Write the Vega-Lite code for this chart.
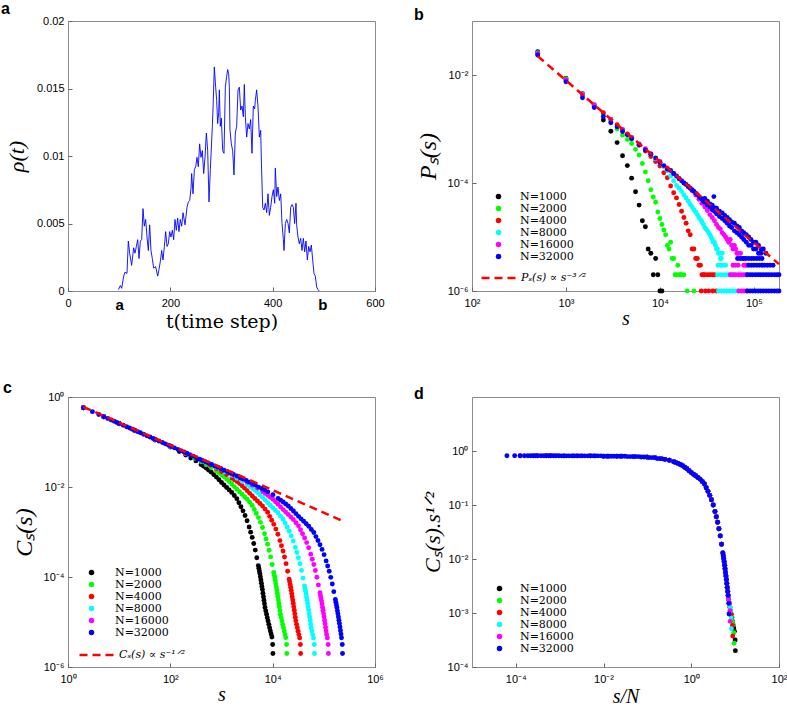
{
"$schema":"https://vega.github.io/schema/vega-lite/v6.json",
"background":"white",
"padding":{"left":0,"top":0,"right":0,"bottom":0},
"config":{
"font":"Liberation Sans",
"view":{"stroke":"#8c8c8c","strokeWidth":1},
"axis":{"domain":false,"grid":false,"labelFont":"Liberation Sans","labelFontSize":11,"labelColor":"#000","labelFlush":false,"labelOverlap":false,"labelBound":false,"tickColor":"#666","tickSize":-4,"tickWidth":1,"labelPadding":8,"titleFont":"Liberation Serif","titleFontWeight":"normal","titleColor":"#000"},
"axisX":{"labelPadding":10},
"title":{"font":"Liberation Sans","fontSize":16,"fontWeight":"bold","anchor":"start","frame":"group","color":"#000"},
"legend":{"labelColor":"#000"}
},
"datasets":{
"a":[{"t":98.4,"r":0.0001},{"t":102.3,"r":0.0004},{"t":104.9,"r":0.0002},{"t":108.8,"r":0.0011},{"t":111.4,"r":0.0014},{"t":115.3,"r":0.0013},{"t":117.9,"r":0.0037},{"t":120.5,"r":0.0028},{"t":124.4,"r":0.0019},{"t":128.3,"r":0.0032},{"t":130.9,"r":0.0028},{"t":133.6,"r":0.0033},{"t":136.2,"r":0.0038},{"t":138.8,"r":0.0024},{"t":141.4,"r":0.0037},{"t":144,"r":0.0038},{"t":146.6,"r":0.0061},{"t":149.2,"r":0.0048},{"t":151.8,"r":0.0053},{"t":154.4,"r":0.004},{"t":157,"r":0.003},{"t":159.6,"r":0.0049},{"t":162.2,"r":0.003},{"t":164.8,"r":0.0024},{"t":167.4,"r":0.0017},{"t":171.3,"r":0.0018},{"t":175.3,"r":0.0011},{"t":177.9,"r":0.0016},{"t":180.5,"r":0.0022},{"t":183.1,"r":0.003},{"t":185.7,"r":0.0023},{"t":188.3,"r":0.0033},{"t":190.9,"r":0.0044},{"t":193.5,"r":0.0033},{"t":196.1,"r":0.0035},{"t":198.7,"r":0.0044},{"t":201.3,"r":0.004},{"t":203.9,"r":0.0045},{"t":206.5,"r":0.0038},{"t":209.1,"r":0.0053},{"t":211.7,"r":0.0045},{"t":214.3,"r":0.0054},{"t":216.9,"r":0.0044},{"t":219.5,"r":0.0053},{"t":222.2,"r":0.0048},{"t":224.8,"r":0.0058},{"t":228.7,"r":0.0049},{"t":232.6,"r":0.0062},{"t":235.2,"r":0.0066},{"t":237.8,"r":0.0067},{"t":240.4,"r":0.0076},{"t":241.7,"r":0.0087},{"t":244.3,"r":0.0072},{"t":247,"r":0.009},{"t":249.6,"r":0.0092},{"t":252.1,"r":0.0099},{"t":254.7,"r":0.0092},{"t":257.3,"r":0.0109},{"t":259.9,"r":0.0099},{"t":262.5,"r":0.0104},{"t":265.2,"r":0.0087},{"t":267.8,"r":0.0099},{"t":270.4,"r":0.0117},{"t":273,"r":0.0104},{"t":275.6,"r":0.0066},{"t":278.2,"r":0.009},{"t":282.1,"r":0.0122},{"t":283.4,"r":0.0135},{"t":286,"r":0.0166},{"t":288.6,"r":0.0151},{"t":290.6,"r":0.0141},{"t":292.5,"r":0.0124},{"t":294.5,"r":0.0132},{"t":295.8,"r":0.0149},{"t":297.7,"r":0.0122},{"t":299.7,"r":0.0128},{"t":302.3,"r":0.0104},{"t":304.9,"r":0.0102},{"t":307.5,"r":0.0151},{"t":310.1,"r":0.0159},{"t":312.1,"r":0.0164},{"t":314,"r":0.0161},{"t":315.3,"r":0.0151},{"t":316.6,"r":0.0119},{"t":319.2,"r":0.0109},{"t":321.8,"r":0.0104},{"t":324.4,"r":0.0086},{"t":327,"r":0.0117},{"t":329.6,"r":0.0122},{"t":332.3,"r":0.0149},{"t":334.9,"r":0.0151},{"t":337.5,"r":0.0134},{"t":340.1,"r":0.0137},{"t":342.7,"r":0.0129},{"t":344.6,"r":0.0153},{"t":346.6,"r":0.0129},{"t":349.2,"r":0.0114},{"t":351.8,"r":0.0124},{"t":354.4,"r":0.012},{"t":357,"r":0.0127},{"t":359.6,"r":0.0102},{"t":362.2,"r":0.0137},{"t":364.8,"r":0.0135},{"t":366.1,"r":0.0141},{"t":368.7,"r":0.0149},{"t":371.3,"r":0.0137},{"t":374,"r":0.0114},{"t":376.6,"r":0.0119},{"t":377.9,"r":0.0097},{"t":380.5,"r":0.0062},{"t":383.1,"r":0.006},{"t":385.7,"r":0.0065},{"t":388.3,"r":0.0058},{"t":390.9,"r":0.0072},{"t":393.5,"r":0.0056},{"t":396.1,"r":0.0062},{"t":398.7,"r":0.007},{"t":401.3,"r":0.0075},{"t":404,"r":0.0065},{"t":405.2,"r":0.0091},{"t":407.9,"r":0.007},{"t":410.4,"r":0.0077},{"t":413.1,"r":0.0067},{"t":415.7,"r":0.0072},{"t":418.3,"r":0.005},{"t":420.9,"r":0.0038},{"t":422.2,"r":0.003},{"t":424.8,"r":0.005},{"t":427.4,"r":0.0053},{"t":430,"r":0.005},{"t":432.6,"r":0.0043},{"t":435.2,"r":0.0062},{"t":437.8,"r":0.0064},{"t":440.4,"r":0.0062},{"t":443,"r":0.005},{"t":445.6,"r":0.0065},{"t":446.9,"r":0.0049},{"t":449.5,"r":0.004},{"t":452.1,"r":0.0035},{"t":454.7,"r":0.0039},{"t":457.3,"r":0.003},{"t":460,"r":0.0039},{"t":462.6,"r":0.0029},{"t":465.2,"r":0.0037},{"t":467.8,"r":0.0023},{"t":470.4,"r":0.0033},{"t":473,"r":0.0029},{"t":475.6,"r":0.0034},{"t":478.2,"r":0.0023},{"t":480.8,"r":0.0013},{"t":483.4,"r":0.0011},{"t":486,"r":0.0003},{"t":488.6,"r":0.0001},{"t":491.2,"r":0}],
"b":[
{"N":1000,"s":500,"p":0.027},{"N":1000,"s":1000,"p":0.0087},{"N":1000,"s":1500,"p":0.0045},{"N":1000,"s":2000,"p":0.0027},{"N":1000,"s":2500,"p":0.00147},{"N":1000,"s":3000,"p":0.00091},{"N":1000,"s":3500,"p":0.00056},{"N":1000,"s":4000,"p":0.00032},{"N":1000,"s":4500,"p":0.00021},{"N":1000,"s":5000,"p":0.000123},{"N":1000,"s":5500,"p":6.9e-5},{"N":1000,"s":6000,"p":3.9e-5},{"N":1000,"s":6500,"p":2e-5},{"N":1000,"s":7000,"p":1.55e-5},{"N":1000,"s":7500,"p":6e-6},{"N":1000,"s":8000,"p":5e-6},{"N":1000,"s":8500,"p":2e-6},{"N":1000,"s":9000,"p":4e-6},{"N":1000,"s":9500,"p":2e-6},{"N":1000,"s":10000,"p":1e-6},{"N":1000,"s":10500,"p":1e-6},
{"N":2000,"s":500,"p":0.026},{"N":2000,"s":1000,"p":0.0085},{"N":2000,"s":1500,"p":0.0044},{"N":2000,"s":2000,"p":0.0028},{"N":2000,"s":2500,"p":0.0019},{"N":2000,"s":3000,"p":0.00135},{"N":2000,"s":3500,"p":0.001},{"N":2000,"s":4000,"p":0.00077},{"N":2000,"s":4500,"p":0.00064},{"N":2000,"s":5000,"p":0.00054},{"N":2000,"s":5500,"p":0.00042},{"N":2000,"s":6000,"p":0.00033},{"N":2000,"s":6500,"p":0.00023},{"N":2000,"s":7000,"p":0.00016},{"N":2000,"s":7500,"p":0.00011},{"N":2000,"s":8000,"p":7.5e-5},{"N":2000,"s":8500,"p":5.5e-5},{"N":2000,"s":9000,"p":4.4e-5},{"N":2000,"s":9500,"p":2.9e-5},{"N":2000,"s":10000,"p":2.2e-5},{"N":2000,"s":10500,"p":1.7e-5},{"N":2000,"s":11000,"p":1.35e-5},{"N":2000,"s":11500,"p":1.1e-5},{"N":2000,"s":12000,"p":7e-6},{"N":2000,"s":12500,"p":6e-6},{"N":2000,"s":13000,"p":8e-6},{"N":2000,"s":13500,"p":4e-6},{"N":2000,"s":14000,"p":4e-6},{"N":2000,"s":14500,"p":2e-6},{"N":2000,"s":15000,"p":2e-6},{"N":2000,"s":15500,"p":3e-6},{"N":2000,"s":16000,"p":2e-6},{"N":2000,"s":16500,"p":2e-6},{"N":2000,"s":17000,"p":2e-6},{"N":2000,"s":18000,"p":2e-6},{"N":2000,"s":19500,"p":1e-6},{"N":2000,"s":23000,"p":1e-6},
{"N":4000,"s":500,"p":0.025},{"N":4000,"s":1000,"p":0.0082},{"N":4000,"s":1500,"p":0.0043},{"N":4000,"s":2000,"p":0.0028},{"N":4000,"s":2500,"p":0.002},{"N":4000,"s":3000,"p":0.0015},{"N":4000,"s":3500,"p":0.0012},{"N":4000,"s":4000,"p":0.00096},{"N":4000,"s":4500,"p":0.00081},{"N":4000,"s":5000,"p":0.00068},{"N":4000,"s":6000,"p":0.0005},{"N":4000,"s":7000,"p":0.00039},{"N":4000,"s":8000,"p":0.00031},{"N":4000,"s":9000,"p":0.00025},{"N":4000,"s":10000,"p":0.000207},{"N":4000,"s":11000,"p":0.000155},{"N":4000,"s":12000,"p":0.000125},{"N":4000,"s":13000,"p":8.8e-5},{"N":4000,"s":14000,"p":6.6e-5},{"N":4000,"s":15000,"p":5.3e-5},{"N":4000,"s":16000,"p":4e-5},{"N":4000,"s":17000,"p":3e-5},{"N":4000,"s":18000,"p":2.3e-5},{"N":4000,"s":19000,"p":1.8e-5},{"N":4000,"s":20000,"p":1.3e-5},{"N":4000,"s":21000,"p":1.1e-5},{"N":4000,"s":22000,"p":6e-6},{"N":4000,"s":23000,"p":6e-6},{"N":4000,"s":24000,"p":4e-6},{"N":4000,"s":25000,"p":4e-6},{"N":4000,"s":26000,"p":3e-6},{"N":4000,"s":27000,"p":3e-6},{"N":4000,"s":28000,"p":2e-6},{"N":4000,"s":29000,"p":2e-6},{"N":4000,"s":30000,"p":2e-6},{"N":4000,"s":32000,"p":2e-6},{"N":4000,"s":34000,"p":2e-6},{"N":4000,"s":36000,"p":2e-6},{"N":4000,"s":38000,"p":2e-6},{"N":4000,"s":27500,"p":1e-6},{"N":4000,"s":30500,"p":1e-6},{"N":4000,"s":33000,"p":1e-6},{"N":4000,"s":36500,"p":1e-6},{"N":4000,"s":40000,"p":1e-6},
{"N":8000,"s":500,"p":0.025},{"N":8000,"s":1000,"p":0.0081},{"N":8000,"s":1500,"p":0.0043},{"N":8000,"s":2000,"p":0.0028},{"N":8000,"s":3000,"p":0.0015},{"N":8000,"s":4000,"p":0.00098},{"N":8000,"s":5000,"p":0.0007},{"N":8000,"s":6000,"p":0.00052},{"N":8000,"s":7000,"p":0.00042},{"N":8000,"s":8000,"p":0.00034},{"N":8000,"s":9000,"p":0.00028},{"N":8000,"s":10000,"p":0.00024},{"N":8000,"s":11000,"p":0.0002},{"N":8000,"s":12000,"p":0.00017},{"N":8000,"s":13000,"p":0.000135},{"N":8000,"s":14000,"p":0.00011},{"N":8000,"s":15000,"p":9e-5},{"N":8000,"s":16000,"p":8e-5},{"N":8000,"s":17000,"p":7e-5},{"N":8000,"s":18000,"p":6e-5},{"N":8000,"s":19000,"p":5.3e-5},{"N":8000,"s":20000,"p":4.6e-5},{"N":8000,"s":21000,"p":4e-5},{"N":8000,"s":22000,"p":3.6e-5},{"N":8000,"s":23000,"p":3.2e-5},{"N":8000,"s":24000,"p":2.9e-5},{"N":8000,"s":25000,"p":2.6e-5},{"N":8000,"s":26000,"p":2.3e-5},{"N":8000,"s":27000,"p":2.1e-5},{"N":8000,"s":28000,"p":1.9e-5},{"N":8000,"s":29000,"p":1.7e-5},{"N":8000,"s":30000,"p":1.5e-5},{"N":8000,"s":31000,"p":1.4e-5},{"N":8000,"s":32000,"p":1.3e-5},{"N":8000,"s":33000,"p":1.2e-5},{"N":8000,"s":34000,"p":1.1e-5},{"N":8000,"s":35000,"p":1e-5},{"N":8000,"s":36000,"p":9e-6},{"N":8000,"s":37000,"p":8e-6},{"N":8000,"s":38000,"p":8e-6},{"N":8000,"s":39000,"p":7e-6},{"N":8000,"s":40000,"p":6e-6},{"N":8000,"s":41000,"p":6e-6},{"N":8000,"s":42000,"p":5e-6},{"N":8000,"s":43000,"p":5e-6},{"N":8000,"s":44000,"p":4e-6},{"N":8000,"s":45000,"p":4e-6},{"N":8000,"s":46000,"p":5e-6},{"N":8000,"s":41500,"p":3e-6},{"N":8000,"s":44500,"p":3e-6},{"N":8000,"s":47000,"p":3e-6},{"N":8000,"s":50000,"p":3e-6},{"N":8000,"s":41000,"p":2e-6},{"N":8000,"s":44000,"p":2e-6},{"N":8000,"s":47000,"p":2e-6},{"N":8000,"s":50000,"p":2e-6},{"N":8000,"s":53500,"p":2e-6},{"N":8000,"s":57000,"p":2e-6},{"N":8000,"s":61000,"p":2e-6},{"N":8000,"s":42000,"p":1e-6},{"N":8000,"s":45000,"p":1e-6},{"N":8000,"s":48000,"p":1e-6},{"N":8000,"s":51500,"p":1e-6},{"N":8000,"s":55000,"p":1e-6},{"N":8000,"s":59000,"p":1e-6},{"N":8000,"s":63000,"p":1e-6},{"N":8000,"s":67000,"p":1e-6},
{"N":16000,"s":500,"p":0.025},{"N":16000,"s":1000,"p":0.0081},{"N":16000,"s":1500,"p":0.0043},{"N":16000,"s":2000,"p":0.0028},{"N":16000,"s":3000,"p":0.0015},{"N":16000,"s":4000,"p":0.00098},{"N":16000,"s":5000,"p":0.0007},{"N":16000,"s":6000,"p":0.00053},{"N":16000,"s":7000,"p":0.00043},{"N":16000,"s":8000,"p":0.00035},{"N":16000,"s":10000,"p":0.00025},{"N":16000,"s":12000,"p":0.00019},{"N":16000,"s":14000,"p":0.00015},{"N":16000,"s":16000,"p":0.000122},{"N":16000,"s":18000,"p":0.0001},{"N":16000,"s":20000,"p":8.5e-5},{"N":16000,"s":22000,"p":7.2e-5},{"N":16000,"s":24000,"p":6e-5},{"N":16000,"s":26000,"p":5e-5},{"N":16000,"s":28000,"p":4.2e-5},{"N":16000,"s":30000,"p":3.6e-5},{"N":16000,"s":32000,"p":3.1e-5},{"N":16000,"s":34000,"p":2.6e-5},{"N":16000,"s":36000,"p":2.3e-5},{"N":16000,"s":38000,"p":2e-5},{"N":16000,"s":40000,"p":1.7e-5},{"N":16000,"s":42000,"p":1.5e-5},{"N":16000,"s":44000,"p":1.4e-5},{"N":16000,"s":46000,"p":1.2e-5},{"N":16000,"s":48000,"p":1.1e-5},{"N":16000,"s":50000,"p":1e-5},{"N":16000,"s":52000,"p":9e-6},{"N":16000,"s":54000,"p":8e-6},{"N":16000,"s":56000,"p":9e-6},{"N":16000,"s":58000,"p":7e-6},{"N":16000,"s":60000,"p":6e-6},{"N":16000,"s":62000,"p":7e-6},{"N":16000,"s":64000,"p":6e-6},{"N":16000,"s":66000,"p":5e-6},{"N":16000,"s":68000,"p":5e-6},{"N":16000,"s":70000,"p":4e-6},{"N":16000,"s":72000,"p":5e-6},{"N":16000,"s":74000,"p":4e-6},{"N":16000,"s":76000,"p":4e-6},{"N":16000,"s":78000,"p":3e-6},{"N":16000,"s":80000,"p":4e-6},{"N":16000,"s":82000,"p":3e-6},{"N":16000,"s":84000,"p":3e-6},{"N":16000,"s":60000,"p":3e-6},{"N":16000,"s":64000,"p":3e-6},{"N":16000,"s":68000,"p":3e-6},{"N":16000,"s":56000,"p":2e-6},{"N":16000,"s":60000,"p":2e-6},{"N":16000,"s":64000,"p":2e-6},{"N":16000,"s":68500,"p":2e-6},{"N":16000,"s":73000,"p":2e-6},{"N":16000,"s":78000,"p":2e-6},{"N":16000,"s":83500,"p":2e-6},{"N":16000,"s":69000,"p":1e-6},{"N":16000,"s":73500,"p":1e-6},{"N":16000,"s":78500,"p":1e-6},{"N":16000,"s":84000,"p":1e-6},
{"N":32000,"s":500,"p":0.0235},{"N":32000,"s":1000,"p":0.0075},{"N":32000,"s":1500,"p":0.0038},{"N":32000,"s":2000,"p":0.0025},{"N":32000,"s":2500,"p":0.0017},{"N":32000,"s":3000,"p":0.0013},{"N":32000,"s":3500,"p":0.0011},{"N":32000,"s":4000,"p":0.0009},{"N":32000,"s":4500,"p":0.00078},{"N":32000,"s":5000,"p":0.00066},{"N":32000,"s":6000,"p":0.00051},{"N":32000,"s":7000,"p":0.00041},{"N":32000,"s":8000,"p":0.00034},{"N":32000,"s":9000,"p":0.00029},{"N":32000,"s":10000,"p":0.00024},{"N":32000,"s":11000,"p":0.00021},{"N":32000,"s":12000,"p":0.00018},{"N":32000,"s":13000,"p":0.00017},{"N":32000,"s":14000,"p":0.00015},{"N":32000,"s":15000,"p":0.000135},{"N":32000,"s":16000,"p":0.00012},{"N":32000,"s":17000,"p":0.00011},{"N":32000,"s":18000,"p":0.0001},{"N":32000,"s":19000,"p":9.4e-5},{"N":32000,"s":20000,"p":8.6e-5},{"N":32000,"s":21000,"p":8e-5},{"N":32000,"s":22000,"p":7.5e-5},{"N":32000,"s":23000,"p":7e-5},{"N":32000,"s":24000,"p":6.5e-5},{"N":32000,"s":25000,"p":6.1e-5},{"N":32000,"s":26000,"p":5.6e-5},{"N":32000,"s":27000,"p":5.3e-5},{"N":32000,"s":28000,"p":5e-5},{"N":32000,"s":29000,"p":4.6e-5},
{"N":32000,"s":30000,"p":4.4e-5},{"N":32000,"s":30000,"p":5.2e-5},{"N":32000,"s":32000,"p":3.9e-5},{"N":32000,"s":32000,"p":4.6e-5},{"N":32000,"s":34000,"p":3.6e-5},{"N":32000,"s":34000,"p":4.1e-5},{"N":32000,"s":36000,"p":3.2e-5},{"N":32000,"s":36000,"p":3.9e-5},{"N":32000,"s":37500,"p":5.6e-5},{"N":32000,"s":38000,"p":3e-5},{"N":32000,"s":38000,"p":3.5e-5},{"N":32000,"s":40000,"p":2.7e-5},{"N":32000,"s":40000,"p":3.4e-5},{"N":32000,"s":43000,"p":2.4e-5},{"N":32000,"s":43000,"p":3e-5},{"N":32000,"s":46000,"p":2.2e-5},{"N":32000,"s":46000,"p":2.8e-5},{"N":32000,"s":49000,"p":2e-5},{"N":32000,"s":49000,"p":2.5e-5},{"N":32000,"s":52000,"p":1.8e-5},{"N":32000,"s":52000,"p":2.3e-5},{"N":32000,"s":55000,"p":1.6e-5},{"N":32000,"s":55000,"p":2.1e-5},{"N":32000,"s":58000,"p":1.5e-5},{"N":32000,"s":58000,"p":1.9e-5},{"N":32000,"s":62000,"p":1.3e-5},{"N":32000,"s":62000,"p":1.8e-5},{"N":32000,"s":66000,"p":1.2e-5},{"N":32000,"s":66000,"p":1.6e-5},{"N":32000,"s":70000,"p":1.1e-5},{"N":32000,"s":70000,"p":1.5e-5},{"N":32000,"s":74000,"p":1e-5},{"N":32000,"s":74000,"p":1.3e-5},{"N":32000,"s":78000,"p":9e-6},{"N":32000,"s":78000,"p":1.2e-5},{"N":32000,"s":83000,"p":8e-6},{"N":32000,"s":83000,"p":1.1e-5},{"N":32000,"s":88000,"p":7e-6},{"N":32000,"s":88000,"p":1e-5},{"N":32000,"s":93000,"p":7e-6},{"N":32000,"s":93000,"p":9e-6},{"N":32000,"s":99000,"p":6e-6},{"N":32000,"s":99000,"p":8e-6},{"N":32000,"s":105000,"p":6e-6},{"N":32000,"s":105000,"p":8e-6},{"N":32000,"s":112000,"p":5e-6},{"N":32000,"s":112000,"p":7e-6},{"N":32000,"s":119000,"p":5e-6},{"N":32000,"s":119000,"p":6e-6},{"N":32000,"s":126000,"p":6e-6},{"N":32000,"s":134000,"p":5e-6},
{"N":32000,"s":67000,"p":4e-6},{"N":32000,"s":72000,"p":4e-6},{"N":32000,"s":77000,"p":4e-6},{"N":32000,"s":82000,"p":4e-6},{"N":32000,"s":88000,"p":4e-6},{"N":32000,"s":94000,"p":4e-6},{"N":32000,"s":100000,"p":4e-6},{"N":32000,"s":107000,"p":4e-6},{"N":32000,"s":114000,"p":4e-6},{"N":32000,"s":122000,"p":4e-6},
{"N":32000,"s":88000,"p":3e-6},{"N":32000,"s":94000,"p":3e-6},{"N":32000,"s":100000,"p":3e-6},{"N":32000,"s":107000,"p":3e-6},{"N":32000,"s":114000,"p":3e-6},{"N":32000,"s":122000,"p":3e-6},{"N":32000,"s":130000,"p":3e-6},{"N":32000,"s":139000,"p":3e-6},{"N":32000,"s":149000,"p":3e-6},{"N":32000,"s":160000,"p":3e-6},
{"N":32000,"s":85000,"p":2e-6},{"N":32000,"s":91000,"p":2e-6},{"N":32000,"s":97000,"p":2e-6},{"N":32000,"s":104000,"p":2e-6},{"N":32000,"s":111000,"p":2e-6},{"N":32000,"s":118000,"p":2e-6},{"N":32000,"s":126000,"p":2e-6},{"N":32000,"s":135000,"p":2e-6},{"N":32000,"s":144000,"p":2e-6},{"N":32000,"s":154000,"p":2e-6},{"N":32000,"s":165000,"p":2e-6},{"N":32000,"s":176000,"p":2e-6},{"N":32000,"s":185000,"p":2e-6},
{"N":32000,"s":85000,"p":1e-6},{"N":32000,"s":91000,"p":1e-6},{"N":32000,"s":97000,"p":1e-6},{"N":32000,"s":104000,"p":1e-6},{"N":32000,"s":111000,"p":1e-6},{"N":32000,"s":118000,"p":1e-6},{"N":32000,"s":126000,"p":1e-6},{"N":32000,"s":135000,"p":1e-6},{"N":32000,"s":144000,"p":1e-6},{"N":32000,"s":154000,"p":1e-6},{"N":32000,"s":165000,"p":1e-6},{"N":32000,"s":176000,"p":1e-6},{"N":32000,"s":185000,"p":1e-6}
],
"bl":[{"s":500,"p":0.0224,"f":"Pₛ(s) ∝ s⁻³ᐟ²"},{"s":185000,"p":3.14e-6,"f":"Pₛ(s) ∝ s⁻³ᐟ²"}],
"cl":[{"s":2,"c":0.6,"f":"Cₛ(s) ∝ s⁻¹ᐟ²"},{"s":230000,"c":0.00177,"f":"Cₛ(s) ∝ s⁻¹ᐟ²"}],
"cd":[
{"N":1000,"s":2,"c":0.575,"x":0.002,"y":0.813},{"N":1000,"s":5,"c":0.364,"x":0.005,"y":0.813},{"N":1000,"s":10,"c":0.253,"x":0.01,"y":0.8},{"N":1000,"s":20,"c":0.179,"x":0.02,"y":0.8},{"N":1000,"s":50,"c":0.111,"x":0.05,"y":0.787},{"N":1000,"s":100,"c":0.077,"x":0.1,"y":0.77},{"N":1000,"s":150,"c":0.0616,"x":0.15,"y":0.755},{"N":1000,"s":200,"c":0.0512,"x":0.2,"y":0.724},
{"N":1000,"s":251,"c":0.0442,"x":0.251,"y":0.7},{"N":1000,"s":316,"c":0.038,"x":0.316,"y":0.676},{"N":1000,"s":398,"c":0.0316,"x":0.398,"y":0.631},{"N":1000,"s":447,"c":0.0288,"x":0.447,"y":0.61},{"N":1000,"s":501,"c":0.0263,"x":0.501,"y":0.589},{"N":1000,"s":562,"c":0.0237,"x":0.562,"y":0.562},{"N":1000,"s":631,"c":0.0214,"x":0.631,"y":0.537},{"N":1000,"s":708,"c":0.0188,"x":0.708,"y":0.501},{"N":1000,"s":794,"c":0.0166,"x":0.794,"y":0.468},{"N":1000,"s":891,"c":0.0145,"x":0.891,"y":0.432},{"N":1000,"s":1000,"c":0.0126,"x":1,"y":0.398},{"N":1000,"s":1122,"c":0.0111,"x":1.122,"y":0.372},{"N":1000,"s":1259,"c":0.00977,"x":1.259,"y":0.347},{"N":1000,"s":1413,"c":0.00861,"x":1.413,"y":0.324},{"N":1000,"s":1585,"c":0.00759,"x":1.585,"y":0.302},{"N":1000,"s":1778,"c":0.00646,"x":1.778,"y":0.272},{"N":1000,"s":1995,"c":0.0055,"x":1.995,"y":0.245},{"N":1000,"s":2188,"c":0.00447,"x":2.188,"y":0.209},{"N":1000,"s":2399,"c":0.00365,"x":2.399,"y":0.179},{"N":1000,"s":2630,"c":0.00295,"x":2.63,"y":0.151},{"N":1000,"s":2884,"c":0.00232,"x":2.884,"y":0.125},{"N":1000,"s":3162,"c":0.00178,"x":3.162,"y":0.1},{"N":1000,"s":3467,"c":0.00129,"x":3.467,"y":0.0759},{"N":1000,"s":3715,"c":0.000993,"x":3.715,"y":0.0605},{"N":1000,"s":3981,"c":0.000759,"x":3.981,"y":0.0479},{"N":1000,"s":4266,"c":0.000556,"x":4.266,"y":0.0363},{"N":1000,"s":4571,"c":0.000396,"x":4.571,"y":0.0268},{"N":1000,"s":4898,"c":0.000267,"x":4.898,"y":0.0187},{"N":1000,"s":5248,"c":0.000179,"x":5.248,"y":0.0129},{"N":1000,"s":5370,"c":0.000156,"x":5.37,"y":0.0114},{"N":1000,"s":5495,"c":0.000136,"x":5.495,"y":0.0101},{"N":1000,"s":5623,"c":0.000119,"x":5.623,"y":0.00891},{"N":1000,"s":5754,"c":0.000101,"x":5.754,"y":0.00766},{"N":1000,"s":5888,"c":8.57e-5,"x":5.888,"y":0.00658},{"N":1000,"s":6026,"c":7.28e-5,"x":6.026,"y":0.00565},{"N":1000,"s":6166,"c":6.18e-5,"x":6.166,"y":0.00485},{"N":1000,"s":6310,"c":5.25e-5,"x":6.31,"y":0.00417},{"N":1000,"s":6457,"c":4.38e-5,"x":6.457,"y":0.00352},{"N":1000,"s":6607,"c":3.65e-5,"x":6.607,"y":0.00296},{"N":1000,"s":6761,"c":3.04e-5,"x":6.761,"y":0.0025},{"N":1000,"s":6918,"c":2.54e-5,"x":6.918,"y":0.00211},{"N":1000,"s":7079,"c":2.11e-5,"x":7.079,"y":0.00178},{"N":1000,"s":7328,"c":1.77e-5,"x":7.328,"y":0.00152},{"N":1000,"s":7586,"c":1.49e-5,"x":7.586,"y":0.00129},{"N":1000,"s":7852,"c":1.25e-5,"x":7.852,"y":0.0011},{"N":1000,"s":8128,"c":1.05e-5,"x":8.128,"y":0.000946},{"N":1000,"s":8414,"c":8.86e-6,"x":8.414,"y":0.000813},{"N":1000,"s":8710,"c":7.48e-6,"x":8.71,"y":0.000698},{"N":1000,"s":9016,"c":6.35e-6,"x":9.016,"y":0.000603},{"N":1000,"s":9333,"c":5.43e-6,"x":9.333,"y":0.000525},{"N":1000,"s":9661,"c":4.65e-6,"x":9.661,"y":0.000457},{"N":1000,"s":10000,"c":3.16e-6,"x":10,"y":0.000316},{"N":1000,"s":10120,"c":2e-6,"x":10.12,"y":0.000201},
{"N":2000,"s":2,"c":0.575,"x":0.001,"y":0.813},{"N":2000,"s":5,"c":0.364,"x":0.0025,"y":0.813},{"N":2000,"s":10,"c":0.257,"x":0.005,"y":0.813},{"N":2000,"s":20,"c":0.179,"x":0.01,"y":0.8},{"N":2000,"s":50,"c":0.113,"x":0.025,"y":0.8},{"N":2000,"s":100,"c":0.0787,"x":0.05,"y":0.787},{"N":2000,"s":200,"c":0.0545,"x":0.1,"y":0.77},{"N":2000,"s":300,"c":0.0436,"x":0.15,"y":0.755},{"N":2000,"s":400,"c":0.0362,"x":0.2,"y":0.724},
{"N":2000,"s":502,"c":0.0312,"x":0.251,"y":0.7},{"N":2000,"s":632,"c":0.0269,"x":0.316,"y":0.676},{"N":2000,"s":796,"c":0.0224,"x":0.398,"y":0.631},{"N":2000,"s":894,"c":0.0204,"x":0.447,"y":0.61},{"N":2000,"s":1002,"c":0.0186,"x":0.501,"y":0.589},{"N":2000,"s":1124,"c":0.0168,"x":0.562,"y":0.562},{"N":2000,"s":1262,"c":0.0151,"x":0.631,"y":0.537},{"N":2000,"s":1416,"c":0.0133,"x":0.708,"y":0.501},{"N":2000,"s":1588,"c":0.0117,"x":0.794,"y":0.468},{"N":2000,"s":1782,"c":0.0102,"x":0.891,"y":0.432},{"N":2000,"s":2000,"c":0.0089,"x":1,"y":0.398},{"N":2000,"s":2244,"c":0.00784,"x":1.122,"y":0.372},{"N":2000,"s":2518,"c":0.00691,"x":1.259,"y":0.347},{"N":2000,"s":2826,"c":0.00609,"x":1.413,"y":0.324},{"N":2000,"s":3170,"c":0.00537,"x":1.585,"y":0.302},{"N":2000,"s":3556,"c":0.00457,"x":1.778,"y":0.272},{"N":2000,"s":3990,"c":0.00389,"x":1.995,"y":0.245},{"N":2000,"s":4376,"c":0.00316,"x":2.188,"y":0.209},{"N":2000,"s":4798,"c":0.00258,"x":2.399,"y":0.179},{"N":2000,"s":5260,"c":0.00209,"x":2.63,"y":0.151},{"N":2000,"s":5768,"c":0.00164,"x":2.884,"y":0.125},{"N":2000,"s":6324,"c":0.00126,"x":3.162,"y":0.1},{"N":2000,"s":6934,"c":0.000911,"x":3.467,"y":0.0759},{"N":2000,"s":7430,"c":0.000702,"x":3.715,"y":0.0605},{"N":2000,"s":7962,"c":0.000537,"x":3.981,"y":0.0479},{"N":2000,"s":8532,"c":0.000393,"x":4.266,"y":0.0363},{"N":2000,"s":9142,"c":0.00028,"x":4.571,"y":0.0268},{"N":2000,"s":9796,"c":0.000189,"x":4.898,"y":0.0187},{"N":2000,"s":10500,"c":0.000126,"x":5.248,"y":0.0129},{"N":2000,"s":10740,"c":0.00011,"x":5.37,"y":0.0114},{"N":2000,"s":10990,"c":9.63e-5,"x":5.495,"y":0.0101},{"N":2000,"s":11250,"c":8.4e-5,"x":5.623,"y":0.00891},{"N":2000,"s":11510,"c":7.14e-5,"x":5.754,"y":0.00766},{"N":2000,"s":11780,"c":6.06e-5,"x":5.888,"y":0.00658},{"N":2000,"s":12050,"c":5.15e-5,"x":6.026,"y":0.00565},{"N":2000,"s":12330,"c":4.37e-5,"x":6.166,"y":0.00485},{"N":2000,"s":12620,"c":3.71e-5,"x":6.31,"y":0.00417},{"N":2000,"s":12910,"c":3.09e-5,"x":6.457,"y":0.00352},{"N":2000,"s":13210,"c":2.58e-5,"x":6.607,"y":0.00296},{"N":2000,"s":13520,"c":2.15e-5,"x":6.761,"y":0.0025},{"N":2000,"s":13840,"c":1.79e-5,"x":6.918,"y":0.00211},{"N":2000,"s":14160,"c":1.49e-5,"x":7.079,"y":0.00178},{"N":2000,"s":14660,"c":1.25e-5,"x":7.328,"y":0.00152},{"N":2000,"s":15170,"c":1.05e-5,"x":7.586,"y":0.00129},{"N":2000,"s":15700,"c":8.81e-6,"x":7.852,"y":0.0011},{"N":2000,"s":16260,"c":7.42e-6,"x":8.128,"y":0.000946},{"N":2000,"s":16830,"c":6.27e-6,"x":8.414,"y":0.000813},{"N":2000,"s":17420,"c":5.29e-6,"x":8.71,"y":0.000698},{"N":2000,"s":18030,"c":4.49e-6,"x":9.016,"y":0.000603},{"N":2000,"s":18660,"c":3.16e-6,"x":9.33,"y":0.000432},{"N":2000,"s":18880,"c":2e-6,"x":9.44,"y":0.000275},
{"N":4000,"s":2,"c":0.578,"x":0.0005,"y":0.817},{"N":4000,"s":5,"c":0.364,"x":0.00125,"y":0.813},{"N":4000,"s":10,"c":0.257,"x":0.0025,"y":0.813},{"N":4000,"s":20,"c":0.182,"x":0.005,"y":0.813},{"N":4000,"s":50,"c":0.113,"x":0.0125,"y":0.8},{"N":4000,"s":100,"c":0.08,"x":0.025,"y":0.8},{"N":4000,"s":200,"c":0.0557,"x":0.05,"y":0.787},{"N":4000,"s":400,"c":0.0385,"x":0.1,"y":0.77},{"N":4000,"s":600,"c":0.0308,"x":0.15,"y":0.755},{"N":4000,"s":800,"c":0.0256,"x":0.2,"y":0.724},
{"N":4000,"s":1004,"c":0.0221,"x":0.251,"y":0.7},{"N":4000,"s":1264,"c":0.019,"x":0.316,"y":0.676},{"N":4000,"s":1592,"c":0.0158,"x":0.398,"y":0.631},{"N":4000,"s":1788,"c":0.0144,"x":0.447,"y":0.61},{"N":4000,"s":2004,"c":0.0132,"x":0.501,"y":0.589},{"N":4000,"s":2248,"c":0.0119,"x":0.562,"y":0.562},{"N":4000,"s":2524,"c":0.0107,"x":0.631,"y":0.537},{"N":4000,"s":2832,"c":0.00942,"x":0.708,"y":0.501},{"N":4000,"s":3176,"c":0.0083,"x":0.794,"y":0.468},{"N":4000,"s":3564,"c":0.00723,"x":0.891,"y":0.432},{"N":4000,"s":4000,"c":0.0063,"x":1,"y":0.398},{"N":4000,"s":4488,"c":0.00555,"x":1.122,"y":0.372},{"N":4000,"s":5036,"c":0.00489,"x":1.259,"y":0.347},{"N":4000,"s":5652,"c":0.00431,"x":1.413,"y":0.324},{"N":4000,"s":6340,"c":0.00379,"x":1.585,"y":0.302},{"N":4000,"s":7112,"c":0.00323,"x":1.778,"y":0.272},{"N":4000,"s":7980,"c":0.00275,"x":1.995,"y":0.245},{"N":4000,"s":8752,"c":0.00223,"x":2.188,"y":0.209},{"N":4000,"s":9596,"c":0.00182,"x":2.399,"y":0.179},{"N":4000,"s":10520,"c":0.00148,"x":2.63,"y":0.151},{"N":4000,"s":11540,"c":0.00116,"x":2.884,"y":0.125},{"N":4000,"s":12650,"c":0.000889,"x":3.162,"y":0.1},{"N":4000,"s":13870,"c":0.000644,"x":3.467,"y":0.0759},{"N":4000,"s":14860,"c":0.000497,"x":3.715,"y":0.0605},{"N":4000,"s":15920,"c":0.000379,"x":3.981,"y":0.0479},{"N":4000,"s":17060,"c":0.000278,"x":4.266,"y":0.0363},{"N":4000,"s":18280,"c":0.000198,"x":4.571,"y":0.0268},{"N":4000,"s":19590,"c":0.000134,"x":4.898,"y":0.0187},{"N":4000,"s":20990,"c":8.93e-5,"x":5.248,"y":0.0129},{"N":4000,"s":21480,"c":7.8e-5,"x":5.37,"y":0.0114},{"N":4000,"s":21980,"c":6.81e-5,"x":5.495,"y":0.0101},{"N":4000,"s":22490,"c":5.94e-5,"x":5.623,"y":0.00891},{"N":4000,"s":23020,"c":5.05e-5,"x":5.754,"y":0.00766},{"N":4000,"s":23550,"c":4.29e-5,"x":5.888,"y":0.00658},{"N":4000,"s":24100,"c":3.64e-5,"x":6.026,"y":0.00565},{"N":4000,"s":24660,"c":3.09e-5,"x":6.166,"y":0.00485},{"N":4000,"s":25240,"c":2.62e-5,"x":6.31,"y":0.00417},{"N":4000,"s":25830,"c":2.19e-5,"x":6.457,"y":0.00352},{"N":4000,"s":26430,"c":1.82e-5,"x":6.607,"y":0.00296},{"N":4000,"s":27040,"c":1.52e-5,"x":6.761,"y":0.0025},{"N":4000,"s":27670,"c":1.27e-5,"x":6.918,"y":0.00211},{"N":4000,"s":28320,"c":1.06e-5,"x":7.079,"y":0.00178},{"N":4000,"s":29310,"c":8.86e-6,"x":7.328,"y":0.00152},{"N":4000,"s":30340,"c":7.43e-6,"x":7.586,"y":0.00129},{"N":4000,"s":31410,"c":6.23e-6,"x":7.852,"y":0.0011},{"N":4000,"s":32510,"c":5.25e-6,"x":8.128,"y":0.000946},{"N":4000,"s":33660,"c":4.43e-6,"x":8.414,"y":0.000813},{"N":4000,"s":34830,"c":3.16e-6,"x":8.71,"y":0.00059},{"N":4000,"s":35240,"c":2e-6,"x":8.81,"y":0.000375},
{"N":8000,"s":2,"c":0.578,"x":0.00025,"y":0.817},{"N":8000,"s":5,"c":0.365,"x":0.000625,"y":0.817},{"N":8000,"s":10,"c":0.257,"x":0.00125,"y":0.813},{"N":8000,"s":20,"c":0.182,"x":0.0025,"y":0.813},{"N":8000,"s":50,"c":0.115,"x":0.00625,"y":0.813},{"N":8000,"s":100,"c":0.08,"x":0.0125,"y":0.8},{"N":8000,"s":200,"c":0.0566,"x":0.025,"y":0.8},{"N":8000,"s":400,"c":0.0394,"x":0.05,"y":0.787},{"N":8000,"s":800,"c":0.0272,"x":0.1,"y":0.77},{"N":8000,"s":1200,"c":0.0218,"x":0.15,"y":0.755},{"N":8000,"s":1600,"c":0.0181,"x":0.2,"y":0.724},
{"N":8000,"s":2008,"c":0.0156,"x":0.251,"y":0.7},{"N":8000,"s":2528,"c":0.0134,"x":0.316,"y":0.676},{"N":8000,"s":3184,"c":0.0112,"x":0.398,"y":0.631},{"N":8000,"s":3576,"c":0.0102,"x":0.447,"y":0.61},{"N":8000,"s":4008,"c":0.0093,"x":0.501,"y":0.589},{"N":8000,"s":4496,"c":0.00839,"x":0.562,"y":0.562},{"N":8000,"s":5048,"c":0.00756,"x":0.631,"y":0.537},{"N":8000,"s":5664,"c":0.00666,"x":0.708,"y":0.501},{"N":8000,"s":6352,"c":0.00587,"x":0.794,"y":0.468},{"N":8000,"s":7128,"c":0.00511,"x":0.891,"y":0.432},{"N":8000,"s":8000,"c":0.00445,"x":1,"y":0.398},{"N":8000,"s":8976,"c":0.00392,"x":1.122,"y":0.372},{"N":8000,"s":10070,"c":0.00345,"x":1.259,"y":0.347},{"N":8000,"s":11300,"c":0.00304,"x":1.413,"y":0.324},{"N":8000,"s":12680,"c":0.00268,"x":1.585,"y":0.302},{"N":8000,"s":14220,"c":0.00228,"x":1.778,"y":0.272},{"N":8000,"s":15960,"c":0.00194,"x":1.995,"y":0.245},{"N":8000,"s":17500,"c":0.00158,"x":2.188,"y":0.209},{"N":8000,"s":19190,"c":0.00129,"x":2.399,"y":0.179},{"N":8000,"s":21040,"c":0.00104,"x":2.63,"y":0.151},{"N":8000,"s":23070,"c":0.000821,"x":2.884,"y":0.125},{"N":8000,"s":25300,"c":0.000629,"x":3.162,"y":0.1},{"N":8000,"s":27740,"c":0.000455,"x":3.467,"y":0.0759},{"N":8000,"s":29720,"c":0.000351,"x":3.715,"y":0.0605},{"N":8000,"s":31850,"c":0.000268,"x":3.981,"y":0.0479},{"N":8000,"s":34130,"c":0.000197,"x":4.266,"y":0.0363},{"N":8000,"s":36570,"c":0.00014,"x":4.571,"y":0.0268},{"N":8000,"s":39180,"c":9.45e-5,"x":4.898,"y":0.0187},{"N":8000,"s":41980,"c":6.32e-5,"x":5.248,"y":0.0129},{"N":8000,"s":42960,"c":5.51e-5,"x":5.37,"y":0.0114},{"N":8000,"s":43960,"c":4.81e-5,"x":5.495,"y":0.0101},{"N":8000,"s":44980,"c":4.2e-5,"x":5.623,"y":0.00891},{"N":8000,"s":46030,"c":3.57e-5,"x":5.754,"y":0.00766},{"N":8000,"s":47100,"c":3.03e-5,"x":5.888,"y":0.00658},{"N":8000,"s":48210,"c":2.57e-5,"x":6.026,"y":0.00565},{"N":8000,"s":49330,"c":2.18e-5,"x":6.166,"y":0.00485},{"N":8000,"s":50480,"c":1.86e-5,"x":6.31,"y":0.00417},{"N":8000,"s":51660,"c":1.55e-5,"x":6.457,"y":0.00352},{"N":8000,"s":52860,"c":1.29e-5,"x":6.607,"y":0.00296},{"N":8000,"s":54090,"c":1.08e-5,"x":6.761,"y":0.0025},{"N":8000,"s":55340,"c":8.96e-6,"x":6.918,"y":0.00211},{"N":8000,"s":56630,"c":7.47e-6,"x":7.079,"y":0.00178},{"N":8000,"s":58620,"c":6.27e-6,"x":7.328,"y":0.00152},{"N":8000,"s":60690,"c":5.25e-6,"x":7.586,"y":0.00129},{"N":8000,"s":62820,"c":4.41e-6,"x":7.852,"y":0.0011},{"N":8000,"s":65010,"c":3.16e-6,"x":8.13,"y":0.000806},{"N":8000,"s":65770,"c":2e-6,"x":8.22,"y":0.000513},
{"N":16000,"s":2,"c":0.578,"x":0.000125,"y":0.817},{"N":16000,"s":5,"c":0.365,"x":0.000313,"y":0.817},{"N":16000,"s":10,"c":0.258,"x":0.000625,"y":0.817},{"N":16000,"s":20,"c":0.182,"x":0.00125,"y":0.813},{"N":16000,"s":50,"c":0.115,"x":0.00313,"y":0.813},{"N":16000,"s":100,"c":0.0813,"x":0.00625,"y":0.813},{"N":16000,"s":200,"c":0.0566,"x":0.0125,"y":0.8},{"N":16000,"s":400,"c":0.04,"x":0.025,"y":0.8},{"N":16000,"s":800,"c":0.0278,"x":0.05,"y":0.787},{"N":16000,"s":1600,"c":0.0193,"x":0.1,"y":0.77},{"N":16000,"s":2400,"c":0.0154,"x":0.15,"y":0.755},{"N":16000,"s":3200,"c":0.0128,"x":0.2,"y":0.724},
{"N":16000,"s":4016,"c":0.011,"x":0.251,"y":0.7},{"N":16000,"s":5056,"c":0.0095,"x":0.316,"y":0.676},{"N":16000,"s":6368,"c":0.00791,"x":0.398,"y":0.631},{"N":16000,"s":7152,"c":0.00721,"x":0.447,"y":0.61},{"N":16000,"s":8016,"c":0.00658,"x":0.501,"y":0.589},{"N":16000,"s":8992,"c":0.00593,"x":0.562,"y":0.562},{"N":16000,"s":10100,"c":0.00535,"x":0.631,"y":0.537},{"N":16000,"s":11330,"c":0.00471,"x":0.708,"y":0.501},{"N":16000,"s":12700,"c":0.00415,"x":0.794,"y":0.468},{"N":16000,"s":14260,"c":0.00361,"x":0.891,"y":0.432},{"N":16000,"s":16000,"c":0.00315,"x":1,"y":0.398},{"N":16000,"s":17950,"c":0.00277,"x":1.122,"y":0.372},{"N":16000,"s":20140,"c":0.00244,"x":1.259,"y":0.347},{"N":16000,"s":22610,"c":0.00215,"x":1.413,"y":0.324},{"N":16000,"s":25360,"c":0.0019,"x":1.585,"y":0.302},{"N":16000,"s":28450,"c":0.00161,"x":1.778,"y":0.272},{"N":16000,"s":31920,"c":0.00137,"x":1.995,"y":0.245},{"N":16000,"s":35010,"c":0.00112,"x":2.188,"y":0.209},{"N":16000,"s":38380,"c":0.000912,"x":2.399,"y":0.179},{"N":16000,"s":42080,"c":0.000738,"x":2.63,"y":0.151},{"N":16000,"s":46140,"c":0.000581,"x":2.884,"y":0.125},{"N":16000,"s":50590,"c":0.000445,"x":3.162,"y":0.1},{"N":16000,"s":55470,"c":0.000322,"x":3.467,"y":0.0759},{"N":16000,"s":59440,"c":0.000248,"x":3.715,"y":0.0605},{"N":16000,"s":63700,"c":0.00019,"x":3.981,"y":0.0479},{"N":16000,"s":68260,"c":0.000139,"x":4.266,"y":0.0363},{"N":16000,"s":73140,"c":9.91e-5,"x":4.571,"y":0.0268},{"N":16000,"s":78370,"c":6.68e-5,"x":4.898,"y":0.0187},{"N":16000,"s":83970,"c":4.47e-5,"x":5.248,"y":0.0129},{"N":16000,"s":85920,"c":3.9e-5,"x":5.37,"y":0.0114},{"N":16000,"s":87920,"c":3.4e-5,"x":5.495,"y":0.0101},{"N":16000,"s":89970,"c":2.97e-5,"x":5.623,"y":0.00891},{"N":16000,"s":92060,"c":2.52e-5,"x":5.754,"y":0.00766},{"N":16000,"s":94210,"c":2.14e-5,"x":5.888,"y":0.00658},{"N":16000,"s":96420,"c":1.82e-5,"x":6.026,"y":0.00565},{"N":16000,"s":98660,"c":1.55e-5,"x":6.166,"y":0.00485},{"N":16000,"s":101000,"c":1.31e-5,"x":6.31,"y":0.00417},{"N":16000,"s":103300,"c":1.09e-5,"x":6.457,"y":0.00352},{"N":16000,"s":105700,"c":9.12e-6,"x":6.607,"y":0.00296},{"N":16000,"s":108200,"c":7.6e-6,"x":6.761,"y":0.0025},{"N":16000,"s":110700,"c":6.34e-6,"x":6.918,"y":0.00211},{"N":16000,"s":113300,"c":5.28e-6,"x":7.079,"y":0.00178},{"N":16000,"s":117200,"c":4.43e-6,"x":7.328,"y":0.00152},{"N":16000,"s":121300,"c":3.16e-6,"x":7.59,"y":0.0011},{"N":16000,"s":122700,"c":2e-6,"x":7.67,"y":0.0007},
{"N":32000,"s":2,"c":0.578,"x":0.0000625,"y":0.817},{"N":32000,"s":3,"c":0.472,"x":0.0000938,"y":0.817},{"N":32000,"s":4,"c":0.409,"x":0.000125,"y":0.817},{"N":32000,"s":5,"c":0.365,"x":0.000156,"y":0.817},{"N":32000,"s":6,"c":0.334,"x":0.000188,"y":0.817},{"N":32000,"s":7,"c":0.309,"x":0.000219,"y":0.817},{"N":32000,"s":8,"c":0.289,"x":0.00025,"y":0.817},{"N":32000,"s":9,"c":0.272,"x":0.000281,"y":0.817},{"N":32000,"s":10,"c":0.258,"x":0.000313,"y":0.817},{"N":32000,"s":12,"c":0.236,"x":0.000375,"y":0.817},{"N":32000,"s":14,"c":0.218,"x":0.000438,"y":0.817},{"N":32000,"s":16,"c":0.204,"x":0.0005,"y":0.817},{"N":32000,"s":18,"c":0.193,"x":0.000563,"y":0.817},{"N":32000,"s":20,"c":0.183,"x":0.000625,"y":0.817},{"N":32000,"s":23,"c":0.17,"x":0.000719,"y":0.817},{"N":32000,"s":26,"c":0.16,"x":0.000813,"y":0.817},{"N":32000,"s":30,"c":0.149,"x":0.000938,"y":0.817},{"N":32000,"s":35,"c":0.137,"x":0.00109,"y":0.813},{"N":32000,"s":40,"c":0.129,"x":0.00125,"y":0.813},{"N":32000,"s":46,"c":0.12,"x":0.00144,"y":0.813},{"N":32000,"s":52,"c":0.113,"x":0.00163,"y":0.813},{"N":32000,"s":60,"c":0.105,"x":0.00188,"y":0.813},{"N":32000,"s":70,"c":0.0972,"x":0.00219,"y":0.813},{"N":32000,"s":80,"c":0.0909,"x":0.0025,"y":0.813},{"N":32000,"s":92,"c":0.0848,"x":0.00288,"y":0.813},{"N":32000,"s":105,"c":0.0793,"x":0.00328,"y":0.813},{"N":32000,"s":120,"c":0.0742,"x":0.00375,"y":0.813},{"N":32000,"s":140,"c":0.0687,"x":0.00438,"y":0.813},{"N":32000,"s":160,"c":0.0643,"x":0.005,"y":0.813},{"N":32000,"s":185,"c":0.0598,"x":0.00578,"y":0.813},{"N":32000,"s":210,"c":0.0561,"x":0.00656,"y":0.813},{"N":32000,"s":240,"c":0.0525,"x":0.0075,"y":0.813},{"N":32000,"s":280,"c":0.0486,"x":0.00875,"y":0.813},{"N":32000,"s":320,"c":0.0447,"x":0.01,"y":0.8},{"N":32000,"s":370,"c":0.0416,"x":0.0116,"y":0.8},{"N":32000,"s":420,"c":0.039,"x":0.0131,"y":0.8},{"N":32000,"s":480,"c":0.0365,"x":0.015,"y":0.8},{"N":32000,"s":550,"c":0.0341,"x":0.0172,"y":0.8},{"N":32000,"s":640,"c":0.0316,"x":0.02,"y":0.8},{"N":32000,"s":740,"c":0.0294,"x":0.0231,"y":0.8},{"N":32000,"s":850,"c":0.0274,"x":0.0266,"y":0.8},{"N":32000,"s":980,"c":0.0256,"x":0.0306,"y":0.8},{"N":32000,"s":1120,"c":0.0235,"x":0.035,"y":0.787},{"N":32000,"s":1300,"c":0.0218,"x":0.0406,"y":0.787},{"N":32000,"s":1500,"c":0.0203,"x":0.0469,"y":0.787},{"N":32000,"s":1720,"c":0.019,"x":0.0538,"y":0.787},{"N":32000,"s":2000,"c":0.0176,"x":0.0625,"y":0.787},{"N":32000,"s":2300,"c":0.0161,"x":0.0719,"y":0.773},{"N":32000,"s":2650,"c":0.015,"x":0.0828,"y":0.773},{"N":32000,"s":3050,"c":0.014,"x":0.0953,"y":0.773},{"N":32000,"s":3500,"c":0.0128,"x":0.109,"y":0.755},{"N":32000,"s":4000,"c":0.0119,"x":0.125,"y":0.755},{"N":32000,"s":4600,"c":0.0111,"x":0.144,"y":0.755},{"N":32000,"s":5300,"c":0.00995,"x":0.166,"y":0.724},{"N":32000,"s":6100,"c":0.00927,"x":0.191,"y":0.724},{"N":32000,"s":7000,"c":0.00855,"x":0.219,"y":0.715},
{"N":32000,"s":8030,"c":0.00781,"x":0.251,"y":0.7},{"N":32000,"s":10120,"c":0.00672,"x":0.316,"y":0.676},{"N":32000,"s":12740,"c":0.00559,"x":0.398,"y":0.631},{"N":32000,"s":14300,"c":0.0051,"x":0.447,"y":0.61},{"N":32000,"s":16040,"c":0.00465,"x":0.501,"y":0.589},{"N":32000,"s":17990,"c":0.00419,"x":0.562,"y":0.562},{"N":32000,"s":20190,"c":0.00378,"x":0.631,"y":0.537},{"N":32000,"s":22660,"c":0.00333,"x":0.708,"y":0.501},{"N":32000,"s":25420,"c":0.00293,"x":0.794,"y":0.468},{"N":32000,"s":28520,"c":0.00256,"x":0.891,"y":0.432},{"N":32000,"s":32000,"c":0.00223,"x":1,"y":0.398},{"N":32000,"s":35900,"c":0.00196,"x":1.122,"y":0.372},{"N":32000,"s":40290,"c":0.00173,"x":1.259,"y":0.347},{"N":32000,"s":45220,"c":0.00152,"x":1.413,"y":0.324},{"N":32000,"s":50720,"c":0.00134,"x":1.585,"y":0.302},{"N":32000,"s":56900,"c":0.00114,"x":1.778,"y":0.272},{"N":32000,"s":63840,"c":0.000972,"x":1.995,"y":0.245},{"N":32000,"s":70000,"c":0.00079,"x":2.188,"y":0.209},{"N":32000,"s":76770,"c":0.000645,"x":2.399,"y":0.179},{"N":32000,"s":84160,"c":0.000522,"x":2.63,"y":0.151},{"N":32000,"s":92290,"c":0.000411,"x":2.884,"y":0.125},{"N":32000,"s":101200,"c":0.000314,"x":3.162,"y":0.1},{"N":32000,"s":110900,"c":0.000228,"x":3.467,"y":0.0759},{"N":32000,"s":118900,"c":0.000176,"x":3.715,"y":0.0605},{"N":32000,"s":127400,"c":0.000134,"x":3.981,"y":0.0479},{"N":32000,"s":136500,"c":9.83e-5,"x":4.266,"y":0.0363},{"N":32000,"s":146300,"c":7e-5,"x":4.571,"y":0.0268},{"N":32000,"s":156700,"c":4.73e-5,"x":4.898,"y":0.0187},{"N":32000,"s":167900,"c":3.16e-5,"x":5.248,"y":0.0129},{"N":32000,"s":171800,"c":2.76e-5,"x":5.37,"y":0.0114},{"N":32000,"s":175800,"c":2.41e-5,"x":5.495,"y":0.0101},{"N":32000,"s":179900,"c":2.1e-5,"x":5.623,"y":0.00891},{"N":32000,"s":184100,"c":1.78e-5,"x":5.754,"y":0.00766},{"N":32000,"s":188400,"c":1.52e-5,"x":5.888,"y":0.00658},{"N":32000,"s":192800,"c":1.29e-5,"x":6.026,"y":0.00565},{"N":32000,"s":197300,"c":1.09e-5,"x":6.166,"y":0.00485},{"N":32000,"s":201900,"c":9.28e-6,"x":6.31,"y":0.00417},{"N":32000,"s":206600,"c":7.73e-6,"x":6.457,"y":0.00352},{"N":32000,"s":211400,"c":6.45e-6,"x":6.607,"y":0.00296},{"N":32000,"s":216400,"c":5.38e-6,"x":6.761,"y":0.0025},{"N":32000,"s":221400,"c":4.48e-6,"x":6.918,"y":0.00211},{"N":32000,"s":229100,"c":3.16e-6,"x":7.16,"y":0.00151},{"N":32000,"s":231700,"c":2e-6,"x":7.24,"y":0.00096}
]
},
"concat":[
{"width":307,"height":270,
"title":{"text":"a","dx":-67,"offset":-2},
"data":{"name":"a"},
"mark":{"type":"line","color":"#0000ff","strokeWidth":0.9},
"encoding":{
"x":{"field":"t","type":"quantitative","scale":{"domain":[0,600],"nice":false,"zero":false},"axis":{"title":"t(time step)","titleFont":"DejaVu Serif","titleFontSize":19,"titlePadding":0,"values":[0,100,200,400,497,600],"labelExpr":"datum.value == 100 ? 'a' : datum.value == 497 ? 'b' : datum.label","labelFontWeight":{"condition":{"test":"datum.value == 100 || datum.value == 497","value":"bold"},"value":"normal"},"labelFontSize":{"condition":{"test":"datum.value == 100 || datum.value == 497","value":15},"value":11},"tickOpacity":{"condition":{"test":"datum.value == 100 || datum.value == 497","value":0},"value":1}}},
"y":{"field":"r","type":"quantitative","scale":{"domain":[0,0.02],"nice":false},"axis":{"title":"ρ(t)","titleFontStyle":"italic","titleFontSize":22,"titlePadding":8,"format":"~g","values":[0,0.005,0.01,0.015,0.02]}}
}},
{"width":307,"height":270,
"title":{"text":"b","dx":-58,"offset":-2},
"layer":[
{"data":{"name":"b"},"mark":{"type":"circle","size":24,"opacity":1},
"encoding":{
"x":{"field":"s","type":"quantitative","scale":{"type":"log","domain":[100,185000],"nice":false},"axis":{"title":"s","titleFontStyle":"italic","titleFontSize":20,"titlePadding":0,"values":[100,1000,10000,100000],"labelExpr":"datum.value == 100 ? '10²' : datum.value == 1000 ? '10³' : datum.value == 10000 ? '10⁴' : '10⁵'"}},
"y":{"field":"p","type":"quantitative","scale":{"type":"log","domain":[0.000001,0.1],"nice":false},"axis":{"title":"Pₛ(s)","titleFontStyle":"italic","titleFontSize":24,"titlePadding":7,"values":[0.000001,0.0001,0.01],"labelExpr":"datum.value < 0.00001 ? '10⁻⁶' : datum.value < 0.001 ? '10⁻⁴' : '10⁻²'"}},
"color":{"field":"N","type":"nominal","scale":{"domain":[1000,2000,4000,8000,16000,32000],"range":["#000000","#00ff00","#ff0000","#00ffff","#ff00ff","#0000ff"]},"legend":{"orient":"none","legendX":21,"legendY":170,"title":null,"padding":0,"labelExpr":"'N=' + datum.label","labelFont":"DejaVu Serif","labelFontSize":11,"symbolType":"circle","symbolSize":30,"symbolStrokeWidth":0,"rowPadding":0,"labelOffset":16}}
}},
{"data":{"name":"bl"},"mark":{"type":"line","color":"#ff0000","strokeWidth":2.5},
"encoding":{
"x":{"field":"s","type":"quantitative"},
"y":{"field":"p","type":"quantitative"},
"strokeDash":{"field":"f","type":"nominal","scale":{"range":[[8,5]]},"legend":{"orient":"none","legendX":8,"legendY":238,"title":null,"padding":0,"labelFont":"DejaVu Serif","labelFontStyle":"italic","labelFontSize":11,"symbolSize":1225,"symbolStrokeWidth":2.5,"labelOffset":3}}
}}
]},
{"width":307,"height":270,
"title":{"text":"c","dx":-65,"offset":-5},
"layer":[
{"data":{"name":"cd"},"mark":{"type":"circle","size":24,"opacity":1},
"encoding":{
"x":{"field":"s","type":"quantitative","scale":{"type":"log","domain":[1,1000000],"nice":false},"axis":{"title":"s","titleFontStyle":"italic","titleFontSize":20,"titlePadding":0,"values":[1,100,10000,1000000],"labelExpr":"datum.value == 1 ? '10⁰' : datum.value == 100 ? '10²' : datum.value == 10000 ? '10⁴' : '10⁶'"}},
"y":{"field":"c","type":"quantitative","scale":{"type":"log","domain":[0.000001,1],"nice":false},"axis":{"title":"Cₛ(s)","titleFontStyle":"italic","titleFontSize":24,"titlePadding":7,"values":[0.000001,0.0001,0.01,1],"labelExpr":"datum.value < 0.00001 ? '10⁻⁶' : datum.value < 0.001 ? '10⁻⁴' : datum.value < 0.1 ? '10⁻²' : '10⁰'"}},
"color":{"field":"N","type":"nominal","scale":{"domain":[1000,2000,4000,8000,16000,32000],"range":["#000000","#00ff00","#ff0000","#00ffff","#ff00ff","#0000ff"]},"legend":{"orient":"none","legendX":18,"legendY":170,"title":null,"padding":0,"labelExpr":"'N=' + datum.label","labelFont":"DejaVu Serif","labelFontSize":11,"symbolType":"circle","symbolSize":30,"symbolStrokeWidth":0,"rowPadding":0,"labelOffset":18}}
}},
{"data":{"name":"cl"},"mark":{"type":"line","color":"#ff0000","strokeWidth":2.5},
"encoding":{
"x":{"field":"s","type":"quantitative"},
"y":{"field":"c","type":"quantitative"},
"strokeDash":{"field":"f","type":"nominal","scale":{"range":[[8,5]]},"legend":{"orient":"none","legendX":10,"legendY":239,"title":null,"padding":0,"labelFont":"DejaVu Serif","labelFontStyle":"italic","labelFontSize":11,"symbolSize":1225,"symbolStrokeWidth":2.5,"labelOffset":3}}
}}
]},
{"width":307,"height":270,
"title":{"text":"d","dx":-58,"offset":-5},
"data":{"name":"cd"},
"mark":{"type":"circle","size":24,"opacity":1},
"encoding":{
"x":{"field":"x","type":"quantitative","scale":{"type":"log","domain":[0.00001,100],"nice":false},"axis":{"title":"s/N","titleFontStyle":"italic","titleFontSize":20,"titlePadding":2,"values":[0.0001,0.01,1,100],"labelExpr":"datum.value < 0.001 ? '10⁻⁴' : datum.value < 0.1 ? '10⁻²' : datum.value < 10 ? '10⁰' : '10²'"}},
"y":{"field":"y","type":"quantitative","scale":{"type":"log","domain":[0.0001,10],"nice":false},"axis":{"title":"Cₛ(s).s¹ᐟ²","titleFontStyle":"italic","titleFontSize":22,"titlePadding":3,"values":[0.0001,0.001,0.01,0.1,1],"labelExpr":"datum.value < 0.0005 ? '10⁻⁴' : datum.value < 0.005 ? '10⁻³' : datum.value < 0.05 ? '10⁻²' : datum.value < 0.5 ? '10⁻¹' : '10⁰'"}},
"color":{"field":"N","type":"nominal","scale":{"domain":[1000,2000,4000,8000,16000,32000],"range":["#000000","#00ff00","#ff0000","#00ffff","#ff00ff","#0000ff"]},"legend":{"orient":"none","legendX":22,"legendY":186,"title":null,"padding":0,"labelExpr":"'N=' + datum.label","labelFont":"DejaVu Serif","labelFontSize":11,"symbolType":"circle","symbolSize":30,"symbolStrokeWidth":0,"rowPadding":0,"labelOffset":15}}
}}
],
"columns":2,
"spacing":{"row":106,"column":97},
"bounds":"flush",
"resolve":{"scale":{"color":"independent","strokeDash":"independent"},"legend":{"color":"independent","strokeDash":"independent"}}
}
